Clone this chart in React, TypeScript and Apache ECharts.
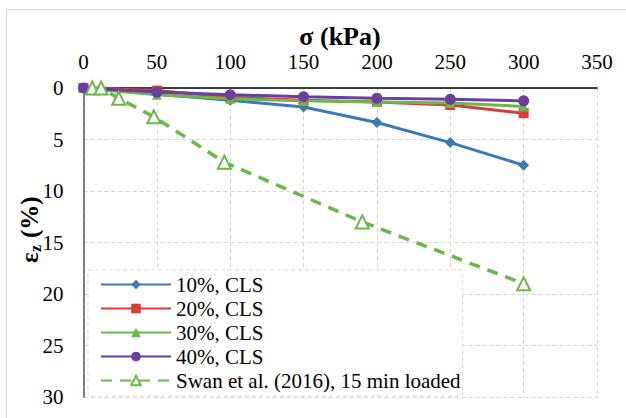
import React, { useEffect, useRef } from "react";
import * as echarts from "echarts";

const stress = [0, 50, 100, 150, 200, 250, 300];
const cls10 = [0, 0.6, 1.2, 1.85, 3.35, 5.3, 7.5];
const cls20 = [0, 0.25, 0.9, 1.2, 1.35, 1.65, 2.45];
const cls30 = [0, 0.65, 1.05, 1.25, 1.35, 1.45, 1.8];
const cls40 = [0, 0.4, 0.65, 0.85, 1.0, 1.1, 1.25];
const swanStress = [6, 12, 24, 48, 96, 190, 300];
const swanStrain = [0, 0, 1.0, 2.8, 7.2, 13.0, 19.0];
const seriesNames = ["10%, CLS", "20%, CLS", "30%, CLS", "40%, CLS", "Swan et al. (2016), 15 min loaded"];

const FONT = "serif";

function pairs(xs: number[], ys: number[]) {
  return xs.map((x, i) => [x, ys[i]]);
}

export default function App() {
  const ref = useRef<HTMLDivElement>(null);
  useEffect(() => {
    if (!ref.current) return;
    const chart = echarts.init(ref.current, null, { renderer: "svg" });
    const colors = ["#3f78b5", "#d6403a", "#6cb74b", "#6c3f9e", "#6cb74b"];
    const clsSeries = [cls10, cls20, cls30, cls40].map((d, i) => ({
      name: seriesNames[i],
      type: "line",
      data: pairs(stress, d),
      symbol: ["diamond", "rect", "triangle", "circle"][i],
      symbolSize: [11, 10, 10, 11][i],
      lineStyle: { width: 3, color: colors[i] },
      itemStyle: { color: colors[i] },
      z: 2 + i,
    }));
    const txt = (text: string, size: number, x: number, y: number) => ({
      type: "text",
      x,
      y,
      style: {
        text,
        fontFamily: FONT,
        fontSize: size,
        fontWeight: "bold",
        fill: "#000",
        align: "left",
        verticalAlign: "middle",
      },
    });
    chart.setOption({
      animation: false,
      backgroundColor: "#ffffff",
      textStyle: { fontFamily: FONT },
      grid: { left: 83.5, right: 29, top: 88, bottom: 21, containLabel: false },
      legend: {
        orient: "vertical",
        left: 88,
        top: 270,
        align: "left",
        itemWidth: 70,
        itemHeight: 12,
        itemGap: 3,
        padding: [4, 2, 5, 12],
        backgroundColor: "#ffffff",
        borderColor: "#d9d9d9",
        borderWidth: 1,
        borderType: [4, 3],
        textStyle: { fontFamily: FONT, fontSize: 21, color: "#000", lineHeight: 21 },
        data: seriesNames,
      },
      xAxis: {
        type: "value",
        position: "top",
        min: 0,
        max: 350,
        interval: 50,
        axisLine: { show: true, lineStyle: { color: "#000", width: 1.5 } },
        axisTick: { show: false },
        axisLabel: { margin: 16, fontFamily: FONT, fontSize: 21, color: "#000" },
        splitLine: { show: true, lineStyle: { color: "#d4d4d4", type: [4, 3], width: 1 } },
      },
      yAxis: {
        type: "value",
        inverse: true,
        min: 0,
        max: 30,
        interval: 5,
        axisLine: { show: true, lineStyle: { color: "#595959", width: 1.5 } },
        axisTick: { show: false },
        axisLabel: { margin: 20, fontFamily: FONT, fontSize: 21, color: "#000" },
        splitLine: { show: true, lineStyle: { color: "#d4d4d4", type: [4, 3], width: 1 } },
      },
      graphic: [
        {
          type: "rect",
          shape: { x: 6.5, y: 9.5, width: 700, height: 500 },
          style: { fill: "none", stroke: "#d9d9d9", lineWidth: 1 },
          silent: true,
          z: -10,
        },
        {
          type: "text",
          x: 340,
          y: 36,
          style: {
            text: "σ (kPa)",
            fontFamily: FONT,
            fontSize: 26,
            fontWeight: "bold",
            fill: "#000",
            align: "center",
            verticalAlign: "middle",
          },
        },
        {
          type: "group",
          x: 29,
          y: 228,
          rotation: Math.PI / 2,
          children: [txt("ε", 25, -35, 0), txt("z", 16, -24, 6), txt("(%)", 25, -10, 0)],
        },
      ],
      series: [
        ...clsSeries,
        {
          name: seriesNames[4],
          type: "line",
          data: pairs(swanStress, swanStrain),
          symbol: "emptyTriangle",
          symbolSize: 13,
          lineStyle: { width: 3.5, color: colors[4], type: [11, 8] },
          itemStyle: { color: colors[4], borderWidth: 2, borderColor: colors[4] },
          z: 10,
        },
      ],
    });
    return () => chart.dispose();
  }, []);
  return (
    <div
      ref={ref}
      style={{ position: "fixed", left: 0, top: 0, width: 626, height: 418, background: "#fff" }}
    />
  );
}
